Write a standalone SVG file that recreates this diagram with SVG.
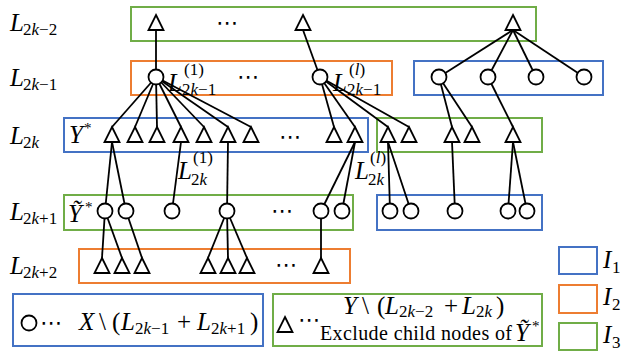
<svg xmlns="http://www.w3.org/2000/svg" xmlns:xlink="http://www.w3.org/1999/xlink" width="622" height="351" viewBox="0 0 622 351">
<style>
.t{font-family:"Liberation Serif","Times New Roman",serif;fill:#000;font-size:25px}
.i{font-style:italic}
.n{font-style:normal}
.s{font-size:17px}
.ast{font-size:15px;font-style:normal}
.dots{font-family:"DejaVu Sans",sans-serif;font-size:22px;fill:#000;text-anchor:middle}
.box{fill:none;stroke-width:2}
.b{stroke:#4472C4}
.o{stroke:#ED7D31}
.g{stroke:#70AD47}
.nd{fill:#fff;stroke:#000;stroke-width:1.8}
#connectors line{stroke:#000;stroke-width:1.8}
</style>
<defs>
<path id="tri" d="M0,0 L7.5,15 L-7.5,15 Z"/>
</defs>
<rect width="622" height="351" fill="#fff"/>

<g id="sets">
<rect class="box g" x="131" y="7" width="405" height="34"/>
<rect class="box o" x="131" y="61" width="261" height="34"/>
<rect class="box b" x="414" y="61" width="189" height="34"/>
<rect class="box b" x="64" y="118" width="304" height="34"/>
<rect class="box g" x="377" y="118" width="165" height="34"/>
<rect class="box g" x="64" y="195" width="289" height="35"/>
<rect class="box b" x="377" y="195" width="165" height="35"/>
<rect class="box o" x="79" y="249" width="271" height="34"/>
<rect class="box b" x="13" y="294" width="250" height="52"/>
<rect class="box g" x="273" y="294" width="269" height="52"/>
<rect class="box b" x="559" y="247" width="38" height="27"/>
<rect class="box o" x="559" y="285" width="38" height="28"/>
<rect class="box g" x="559" y="323" width="38" height="27"/>
</g>

<g id="level-labels">
<text class="t i" x="10" y="31">L<tspan class="s n" x="23" y="35">2<tspan class="i">k</tspan>−2</tspan></text>
<text class="t i" x="10" y="86">L<tspan class="s n" x="23" y="90">2<tspan class="i">k</tspan>−1</tspan></text>
<text class="t i" x="10" y="144">L<tspan class="s n" x="23" y="148">2<tspan class="i">k</tspan></tspan></text>
<text class="t i" x="10" y="220">L<tspan class="s n" x="23" y="224">2<tspan class="i">k</tspan>+1</tspan></text>
<text class="t i" x="10" y="274">L<tspan class="s n" x="23" y="278">2<tspan class="i">k</tspan>+2</tspan></text>
</g>

<g id="connectors">
<line x1="156" y1="30" x2="156" y2="77"/>
<line x1="303" y1="30" x2="320" y2="77"/>
<line x1="513" y1="30" x2="439" y2="77"/>
<line x1="513" y1="30" x2="488" y2="77"/>
<line x1="513" y1="30" x2="536" y2="77"/>
<line x1="513" y1="30" x2="584" y2="77"/>
<line x1="156" y1="77" x2="112" y2="127"/>
<line x1="156" y1="77" x2="135" y2="127"/>
<line x1="156" y1="77" x2="157" y2="127"/>
<line x1="156" y1="77" x2="181" y2="127"/>
<line x1="156" y1="77" x2="204" y2="127"/>
<line x1="156" y1="77" x2="228" y2="127"/>
<line x1="156" y1="77" x2="251" y2="127"/>
<line x1="320" y1="77" x2="334" y2="127"/>
<line x1="320" y1="77" x2="355" y2="127"/>
<line x1="320" y1="77" x2="388" y2="127"/>
<line x1="320" y1="77" x2="409" y2="127"/>
<line x1="439" y1="77" x2="452" y2="127"/>
<line x1="439" y1="77" x2="472" y2="127"/>
<line x1="488" y1="77" x2="513" y2="127"/>
<line x1="112" y1="142" x2="105" y2="211"/>
<line x1="112" y1="142" x2="126" y2="211"/>
<line x1="181" y1="142" x2="172" y2="211"/>
<line x1="228" y1="142" x2="227" y2="211"/>
<line x1="355" y1="142" x2="321" y2="211"/>
<line x1="355" y1="142" x2="342" y2="211"/>
<line x1="388" y1="142" x2="390" y2="211"/>
<line x1="388" y1="142" x2="411" y2="211"/>
<line x1="452" y1="142" x2="455" y2="211"/>
<line x1="513" y1="142" x2="508" y2="211"/>
<line x1="513" y1="142" x2="527" y2="211"/>
<line x1="105" y1="211" x2="102" y2="258"/>
<line x1="105" y1="211" x2="122" y2="258"/>
<line x1="126" y1="211" x2="142" y2="258"/>
<line x1="227" y1="211" x2="208" y2="258"/>
<line x1="227" y1="211" x2="228" y2="258"/>
<line x1="227" y1="211" x2="247" y2="258"/>
<line x1="321" y1="211" x2="321" y2="258"/>
</g>

<g id="row-2k-2">
<g id="a1"><use class="nd" xlink:href="#tri" href="#tri" x="156" y="15"/></g>
<g id="a2"><use class="nd" xlink:href="#tri" href="#tri" x="303" y="15"/></g>
<g id="a3"><use class="nd" xlink:href="#tri" href="#tri" x="513" y="15"/></g>
<text class="dots" x="227" y="30">⋯</text>
</g>

<g id="row-2k-1">
<g id="b1"><circle class="nd" cx="156" cy="77" r="7.5"/>
<text class="t i" x="168" y="91">L<tspan class="s n" x="184" y="75">(1)</tspan><tspan class="s n" x="182" y="95">2<tspan class="i">k</tspan>−1</tspan></text></g>
<g id="b2"><circle class="nd" cx="320" cy="77" r="7.5"/>
<text class="t i" x="333" y="91">L<tspan class="s n" x="349" y="75">(<tspan class="i">l</tspan>)</tspan><tspan class="s n" x="347" y="95">2<tspan class="i">k</tspan>−1</tspan></text></g>
<text class="dots" x="248" y="84">⋯</text>
<g id="b3"><circle class="nd" cx="439" cy="77" r="7.5"/></g>
<g id="b4"><circle class="nd" cx="488" cy="77" r="7.5"/></g>
<g id="b5"><circle class="nd" cx="536" cy="77" r="7.5"/></g>
<g id="b6"><circle class="nd" cx="584" cy="77" r="7.5"/></g>
</g>

<g id="row-2k">
<text class="t i" x="69" y="143">Y<tspan class="ast" x="84" y="133">*</tspan></text>
<g id="c1"><use class="nd" xlink:href="#tri" href="#tri" x="112" y="127"/></g>
<g id="c2"><use class="nd" xlink:href="#tri" href="#tri" x="135" y="127"/></g>
<g id="c3"><use class="nd" xlink:href="#tri" href="#tri" x="157" y="127"/></g>
<g id="c4"><use class="nd" xlink:href="#tri" href="#tri" x="181" y="127"/></g>
<g id="c5"><use class="nd" xlink:href="#tri" href="#tri" x="204" y="127"/></g>
<g id="c6"><use class="nd" xlink:href="#tri" href="#tri" x="228" y="127"/></g>
<g id="c7"><use class="nd" xlink:href="#tri" href="#tri" x="251" y="127"/></g>
<text class="dots" x="290" y="144">⋯</text>
<g id="c8"><use class="nd" xlink:href="#tri" href="#tri" x="334" y="127"/></g>
<g id="c9"><use class="nd" xlink:href="#tri" href="#tri" x="355" y="127"/></g>
<g id="c10"><use class="nd" xlink:href="#tri" href="#tri" x="388" y="127"/></g>
<g id="c11"><use class="nd" xlink:href="#tri" href="#tri" x="409" y="127"/></g>
<g id="c12"><use class="nd" xlink:href="#tri" href="#tri" x="452" y="127"/></g>
<g id="c13"><use class="nd" xlink:href="#tri" href="#tri" x="472" y="127"/></g>
<g id="c14"><use class="nd" xlink:href="#tri" href="#tri" x="513" y="127"/></g>
<text id="lab-2k-1" class="t i" x="178" y="179">L<tspan class="s n" x="193" y="163">(1)</tspan><tspan class="s n" x="191" y="185">2<tspan class="i">k</tspan></tspan></text>
<text id="lab-2k-l" class="t i" x="355" y="179">L<tspan class="s n" x="370" y="163">(<tspan class="i">l</tspan>)</tspan><tspan class="s n" x="368" y="185">2<tspan class="i">k</tspan></tspan></text>
</g>

<g id="row-2k+1">
<text class="t i" x="68" y="222">Ỹ<tspan class="ast" x="85" y="212">*</tspan></text>
<g id="d1"><circle class="nd" cx="105" cy="211" r="7.5"/></g>
<g id="d2"><circle class="nd" cx="126" cy="211" r="7.5"/></g>
<g id="d3"><circle class="nd" cx="172" cy="211" r="7.5"/></g>
<g id="d4"><circle class="nd" cx="227" cy="211" r="7.5"/></g>
<text class="dots" x="282" y="218">⋯</text>
<g id="d5"><circle class="nd" cx="321" cy="211" r="7.5"/></g>
<g id="d6"><circle class="nd" cx="342" cy="211" r="7.5"/></g>
<g id="d7"><circle class="nd" cx="390" cy="211" r="7.5"/></g>
<g id="d8"><circle class="nd" cx="411" cy="211" r="7.5"/></g>
<g id="d9"><circle class="nd" cx="455" cy="211" r="7.5"/></g>
<g id="d10"><circle class="nd" cx="508" cy="211" r="7.5"/></g>
<g id="d11"><circle class="nd" cx="527" cy="211" r="7.5"/></g>
</g>

<g id="row-2k+2">
<g id="e1"><use class="nd" xlink:href="#tri" href="#tri" x="102" y="258"/></g>
<g id="e2"><use class="nd" xlink:href="#tri" href="#tri" x="122" y="258"/></g>
<g id="e3"><use class="nd" xlink:href="#tri" href="#tri" x="142" y="258"/></g>
<g id="e4"><use class="nd" xlink:href="#tri" href="#tri" x="208" y="258"/></g>
<g id="e5"><use class="nd" xlink:href="#tri" href="#tri" x="228" y="258"/></g>
<g id="e6"><use class="nd" xlink:href="#tri" href="#tri" x="247" y="258"/></g>
<text class="dots" x="286" y="272">⋯</text>
<g id="e7"><use class="nd" xlink:href="#tri" href="#tri" x="321" y="258"/></g>
</g>

<g id="legend-x">
<circle class="nd" cx="29" cy="323" r="7.5"/>
<text class="dots" x="51" y="330">⋯</text>
<text class="t i" x="79" y="330">X<tspan class="n" x="99">\</tspan><tspan class="n" x="112">(</tspan><tspan x="121">L</tspan><tspan class="s n" x="135" y="334">2<tspan class="i">k</tspan>−1</tspan><tspan class="n" x="177" y="330">+</tspan><tspan x="197">L</tspan><tspan class="s n" x="211" y="334">2<tspan class="i">k</tspan>+1</tspan><tspan class="n" x="250" y="330">)</tspan></text>
</g>

<g id="legend-y">
<use class="nd" xlink:href="#tri" href="#tri" x="285" y="317"/>
<text class="dots" x="309" y="327">⋯</text>
<text class="t i" x="343" y="314">Y<tspan class="n" x="362">\</tspan><tspan class="n" x="377">(</tspan><tspan x="385">L</tspan><tspan class="s n" x="399" y="317">2<tspan class="i">k</tspan>−2</tspan><tspan class="n" x="444" y="314">+</tspan><tspan x="462">L</tspan><tspan class="s n" x="476" y="317">2<tspan class="i">k</tspan></tspan><tspan class="n" x="496" y="314">)</tspan></text>
<text class="t" style="font-size:20px" x="320" y="340" textLength="192" lengthAdjust="spacing">Exclude child nodes of</text>
<text class="t i" x="515" y="341">Ỹ<tspan class="ast" x="532" y="331">*</tspan></text>
</g>

<g id="legend-sets">
<text class="t i" x="603" y="268">I<tspan class="s n" x="612" y="273">1</tspan></text>
<text class="t i" x="603" y="305">I<tspan class="s n" x="612" y="310">2</tspan></text>
<text class="t i" x="603" y="343">I<tspan class="s n" x="612" y="348">3</tspan></text>
</g>
</svg>
